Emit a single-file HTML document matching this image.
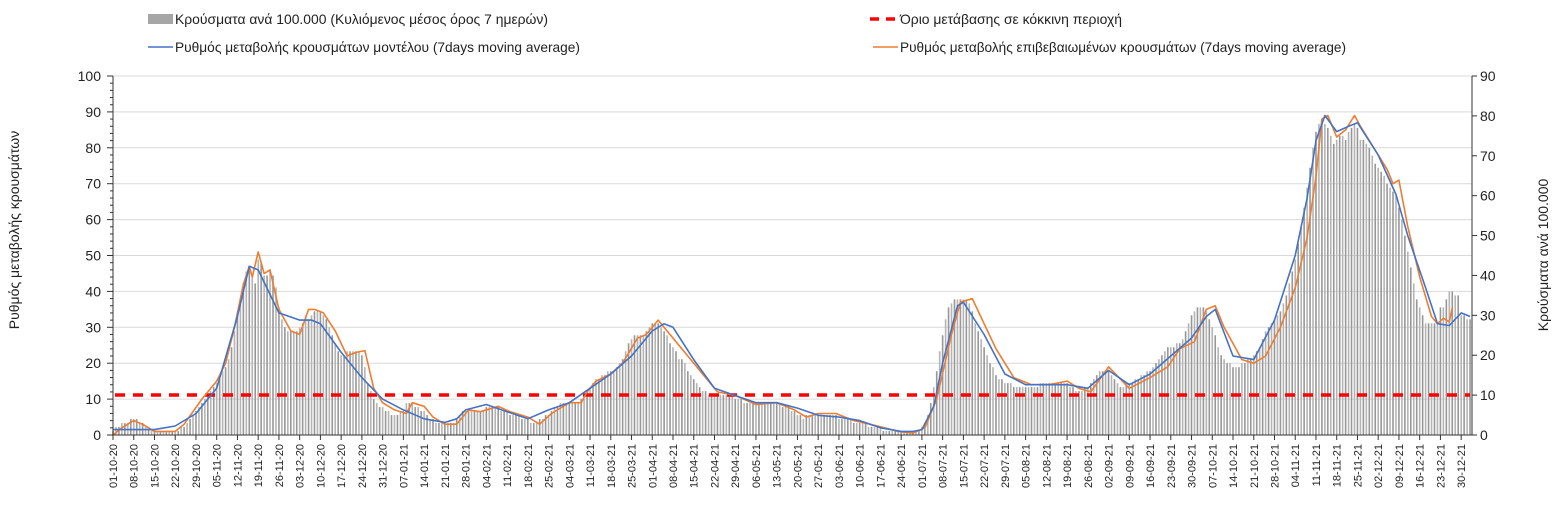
<!DOCTYPE html>
<html><head><meta charset="utf-8"><style>
html,body{margin:0;padding:0;background:#fff;}
svg{display:block;font-family:"Liberation Sans",sans-serif;}
</style></head><body>
<svg id="chart" width="1567" height="518" viewBox="0 0 1567 518" xmlns="http://www.w3.org/2000/svg">
<g id="grid"></g>
<g id="bars"></g>
<line x1="115" y1="395" x2="1470" y2="395" stroke="#ff0000" stroke-width="3.5" stroke-dasharray="10,8"/>
<path id="orange" fill="none" stroke="#ed7d31" stroke-width="1.6" stroke-linejoin="round"/>
<path id="blue" fill="none" stroke="#4472c4" stroke-width="1.6" stroke-linejoin="round"/>
<g id="axes"></g>
<g font-size="14" fill="#222">
 <g><rect x="148" y="14" width="25" height="10" fill="#a6a6a6"/><text x="175" y="24" textLength="373" lengthAdjust="spacingAndGlyphs">Κρούσματα ανά 100.000 (Κυλιόμενος μέσος όρος 7 ημερών)</text></g>
 <g><line x1="148" y1="47" x2="173" y2="47" stroke="#4472c4" stroke-width="1.6"/><text x="175" y="52" textLength="405" lengthAdjust="spacingAndGlyphs">Ρυθμός μεταβολής κρουσμάτων μοντέλου (7days moving average)</text></g>
 <g><line x1="870" y1="19" x2="897" y2="19" stroke="#ff0000" stroke-width="3.5" stroke-dasharray="9,7"/><text x="900" y="24" textLength="222" lengthAdjust="spacingAndGlyphs">Όριο μετάβασης σε κόκκινη περιοχή</text></g>
 <g><line x1="873" y1="47" x2="898" y2="47" stroke="#ed7d31" stroke-width="1.6"/><text x="900" y="52" textLength="446" lengthAdjust="spacingAndGlyphs">Ρυθμός μεταβολής επιβεβαιωμένων κρουσμάτων (7days moving average)</text></g>
</g>
<text transform="translate(19,230) rotate(-90)" text-anchor="middle" font-size="14" fill="#222">Ρυθμός μεταβολής κρουσμάτων</text>
<text transform="translate(1548,255) rotate(-90)" text-anchor="middle" font-size="14" fill="#222">Κρούσματα ανά 100.000</text>
</svg>
<script>
const startDate = [2020, 9, 1];
const leftTicks = [0,10,20,30,40,50,60,70,80,90,100];
const rightTicks = [0,10,20,30,40,50,60,70,80,90];
const barValues = [
1,2,2,3,3,3,4, 4,4,3,3,2,2,1, 1,1,1,1,1,1,1, 1,1,2,2,3,4,5, 6,7,8,9,10,11,12,
13,14,16,17,19,22,26, 30,33,38,41,42,40,38, 44,43,40,40,41,40,37, 32,29,27,26,26,26,26,
27,28,30,29,30,31,31, 31,30,29,27,25,23,21, 20,20,21,21,21,21,21, 20,17,13,11,9,8,7,
7,6,6,5,5,5,6, 6,8,8,8,7,7,6, 6,5,4,4,3,3,3, 3,3,3,3,4,5,6, 6,6,6,6,6,6,6,
7,7,7,7,7,6,6, 6,5,5,5,5,4,4, 4,3,3,3,4,4,5, 5,6,7,7,8,8,8, 8,8,8,8,9,9,11,
12,13,14,14,15,15,16, 16,16,17,18,19,21,23, 24,25,25,25,25,26,27, 28,28,28,27,26,25,23,
22,21,19,19,18,16,15, 14,13,12,11,11,10,10, 10,10,10,10,10,10,10, 9,9,9,8,8,8,8,
8,8,8,8,8,8,8, 8,8,7,7,7,6,6, 5,5,4,5,5,5,5, 5,5,5,5,5,5,5, 4,4,4,4,4,3,3,
3,3,3,2,2,2,2, 2,1,1,1,1,1,1, 1,1,1,1,1,1,1, 2,3,5,8,12,16,21, 25,29,32,33,34,34,34,
34,34,33,31,28,26,24, 22,20,18,17,15,14,14, 13,13,13,12,12,12,12, 12,12,12,12,12,13,13,
13,13,13,13,13,13,13, 13,12,12,11,11,11,12, 12,13,14,15,16,16,16, 16,15,14,13,12,12,13,
13,13,14,14,15,15,16, 16,17,18,19,20,21,22, 22,22,23,23,24,26,28, 30,31,32,32,32,31,29,
27,25,22,20,19,18,18, 17,17,17,18,18,19,19, 20,21,22,24,26,27,28, 29,30,31,33,35,38,41,
44,48,52,57,62,67,72, 76,78,79,78,77,75,73, 74,75,75,74,76,77,78, 77,74,74,73,72,70,68,
67,66,65,63,62,61,60, 57,54,50,46,42,38,34, 32,30,28,28,28,28,28, 32,32,34,36,36,35,35,
30,30,29,29];
const modelDays = [0,7,14,21,28,35,42,46,49,56,63,67,70,77,84,91,98,105,112,116,119,126,133,140,147,154,161,168,175,182,186,189,196,203,210,217,224,231,238,245,252,259,266,270,273,277,280,285,287,294,301,308,315,322,329,336,343,350,357,364,369,372,378,385,392,399,403,406,409,413,417,420,427,433,437,443,447,451,455,458];
const modelVals = [1.5,1.5,1.5,2.5,6,13,33,47,46,34,32,32,31,23,16,10,7,4.5,3.5,4.5,7,8.5,6.5,4.5,7,9,13,17,22,29,31,30,21,13,11,9,9,7.5,5.5,5,4,2,1,1,1.5,8,20,36,37,28,17,14,14,14,13,18,14,17,22,27,33,35,22,21,32,50,66,82,89,84.5,86,87,78,67,55.5,41,31,30.5,34,33];
const confDays = [0,3,7,10,14,21,24,30,35,38,41,44,46,47,49,51,53,56,60,63,66,68,71,75,79,82,85,88,91,95,99,101,105,108,112,116,120,124,130,134,140,144,148,154,158,160,163,168,172,177,180,184,188,195,200,204,210,217,224,230,234,238,244,250,258,265,270,274,278,283,286,290,294,298,304,310,316,322,326,330,336,343,350,356,360,365,369,372,375,381,385,389,394,399,403,406,408,410,413,416,419,421,424,427,430,432,434,437,441,445,447,449,451,452];
const confVals = [0,2,4,3,1,1,3,10,15,20,30,42,47,44,51,45,46,35,29,28,35,35,34,29,22,23,23.5,13,9,7,6,9,8,5,3,3,7,6.5,8,6.5,5,3,6,9,9,12,15,17,20,27,28,32,28,21,16,12,11,8.5,9,7,5,6,6,4,2.5,1,0.5,2,10,28,37,38,31,24,16,14,14,15,13,12,19,13,16,19,24,26,35,36,30,21,20,22,30,41,55,72,88,89,83,85,89,86,82,78,74,70,71,58,44,33,31,32.5,31.5,35.5];

const NS='http://www.w3.org/2000/svg';
const X0=113, PXD=2.963, Y0=435, PXL=3.59, PXR=359/90;
const xs=d=>X0+d*PXD;
const yl=v=>Y0-v*PXL;
const yr=v=>Y0-v*PXR;
function mk(tag,parent){const e=document.createElementNS(NS,tag);parent.appendChild(e);return e;}
const grid=document.getElementById('grid');
leftTicks.forEach(t=>{if(t===0)return;const l=mk('line',grid);


l.setAttribute('x1',X0);l.setAttribute('x2',1472);l.setAttribute('y1',yl(t));l.setAttribute('y2',yl(t));l.setAttribute('stroke','#d9d9d9');l.setAttribute('stroke-width','1');});
const bars=document.getElementById('bars');
barValues.forEach((v,i)=>{const r=mk('rect',bars);


r.setAttribute('x',xs(i)-0.8);r.setAttribute('width',1.6);r.setAttribute('y',yr(v));r.setAttribute('height',Y0-yr(v));r.setAttribute('fill',i%2?'#b4b4b4':'#979797');});
function path(days,vals){return days.map((d,i)=>(i?'L':'M')+xs(d).toFixed(1)+','+yl(vals[i]).toFixed(1)).join('');}
document.getElementById('blue').setAttribute('d',path(modelDays,modelVals));
document.getElementById('orange').setAttribute('d',path(confDays,confVals));
const ax=document.getElementById('axes');
function ln(x1,y1,x2,y2,n){const l=mk('line',ax);


l.setAttribute('x1',x1);l.setAttribute('y1',y1);l.setAttribute('x2',x2);l.setAttribute('y2',y2);l.setAttribute('stroke','#333');l.setAttribute('stroke-width','1');}
ln(X0,76,X0,Y0,'y-axis-left');ln(1472,76,1472,Y0,'y-axis-right');ln(X0,Y0,1472,Y0,'x-axis');
for(let v=0;v<=100;v+=2){ln(X0-(v%10?3:6),yl(v),X0,yl(v),'left-tick');}
rightTicks.forEach(t=>{ln(1472,yr(t),1477,yr(t),'right-tick');
const tx=mk('text',ax);


tx.setAttribute('x',1480);tx.setAttribute('y',yr(t)+5);tx.setAttribute('font-size','14');tx.setAttribute('fill','#222');tx.textContent=t;});
leftTicks.forEach(t=>{const tx=mk('text',ax);


tx.setAttribute('x',101);tx.setAttribute('y',yl(t)+5);tx.setAttribute('text-anchor','end');tx.setAttribute('font-size','14');tx.setAttribute('fill','#222');tx.textContent=t;});
const p=n=>String(n).padStart(2,'0');
for(let d=0;d<=455;d+=7){const dt=new Date(startDate[0],startDate[1],startDate[2]+d);
ln(xs(d),Y0,xs(d),Y0+5,'x-tick');
const s=p(dt.getDate())+'-'+p(dt.getMonth()+1)+'-'+p(dt.getFullYear()%100);
const tx=mk('text',ax);


tx.setAttribute('transform','translate('+(xs(d)+4)+',444) rotate(-90)');tx.setAttribute('text-anchor','end');tx.setAttribute('font-size','11');tx.setAttribute('fill','#222');tx.textContent=s;}
</script>
</body></html>
